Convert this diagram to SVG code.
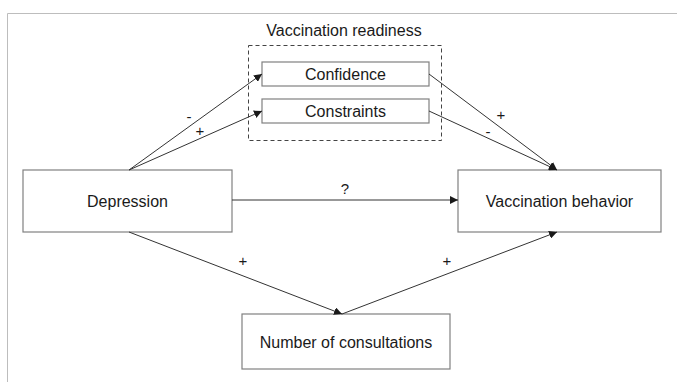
<svg xmlns="http://www.w3.org/2000/svg" width="677" height="382" viewBox="0 0 677 382">
<style>
.box{fill:#fff;stroke:#808080;stroke-width:1.2}
.t{font-family:"Liberation Sans",Arial,sans-serif;font-size:16px;fill:#1a1a1a;text-anchor:middle;dominant-baseline:central}
.s{font-family:"Liberation Sans",Arial,sans-serif;font-size:15px;fill:#1a1a1a;text-anchor:middle;dominant-baseline:central}
.c{stroke:#333;stroke-width:1;fill:none;marker-end:url(#ah)}
</style>
<defs>
<marker id="ah" viewBox="0 0 10 10" refX="10" refY="5" markerWidth="8" markerHeight="8" markerUnits="userSpaceOnUse" orient="auto">
<path d="M0,0 L10,5 L0,10 z" fill="#1a1a1a"/>
</marker>
</defs>
<rect width="677" height="382" fill="#fff"/>
<path d="M7.5,382 V13.5 H677" fill="none" stroke="#bdbdbd" stroke-width="1"/>
<g id="readiness">
<text class="t" x="344" y="30">Vaccination readiness</text>
<rect x="248.5" y="45.5" width="193" height="95" fill="none" stroke="#444" stroke-width="1" stroke-dasharray="4,3"/>
</g>
<g id="confidence">
<rect class="box" x="262" y="62" width="167" height="24"/>
<text class="t" x="345.5" y="74">Confidence</text>
</g>
<g id="constraints">
<rect class="box" x="262" y="99" width="167" height="24"/>
<text class="t" x="345.5" y="111">Constraints</text>
</g>
<g id="depression">
<rect class="box" x="23" y="170" width="209" height="62"/>
<text class="t" x="127.5" y="201">Depression</text>
</g>
<g id="behavior">
<rect class="box" x="458" y="170" width="203" height="62"/>
<text class="t" x="559.5" y="201">Vaccination behavior</text>
</g>
<g id="consultations">
<rect class="box" x="242" y="314" width="208" height="55"/>
<text class="t" x="346" y="342">Number of consultations</text>
</g>
<g id="connectors">
<line class="c" x1="129" y1="170" x2="262" y2="74"/>
<line class="c" x1="129" y1="170" x2="262" y2="111"/>
<line class="c" x1="429" y1="74" x2="557" y2="170"/>
<line class="c" x1="429" y1="111" x2="557" y2="170"/>
<line class="c" x1="232" y1="200" x2="458" y2="200"/>
<line class="c" x1="129" y1="232" x2="342" y2="314"/>
<line class="c" x1="342" y1="314" x2="557" y2="232"/>
<text class="s" x="189" y="116">-</text>
<text class="s" x="200" y="130">+</text>
<text class="s" x="501" y="114">+</text>
<text class="s" x="488" y="131">-</text>
<text class="s" x="345" y="188">?</text>
<text class="s" x="243" y="260">+</text>
<text class="s" x="447" y="260">+</text>
</g>
</svg>
